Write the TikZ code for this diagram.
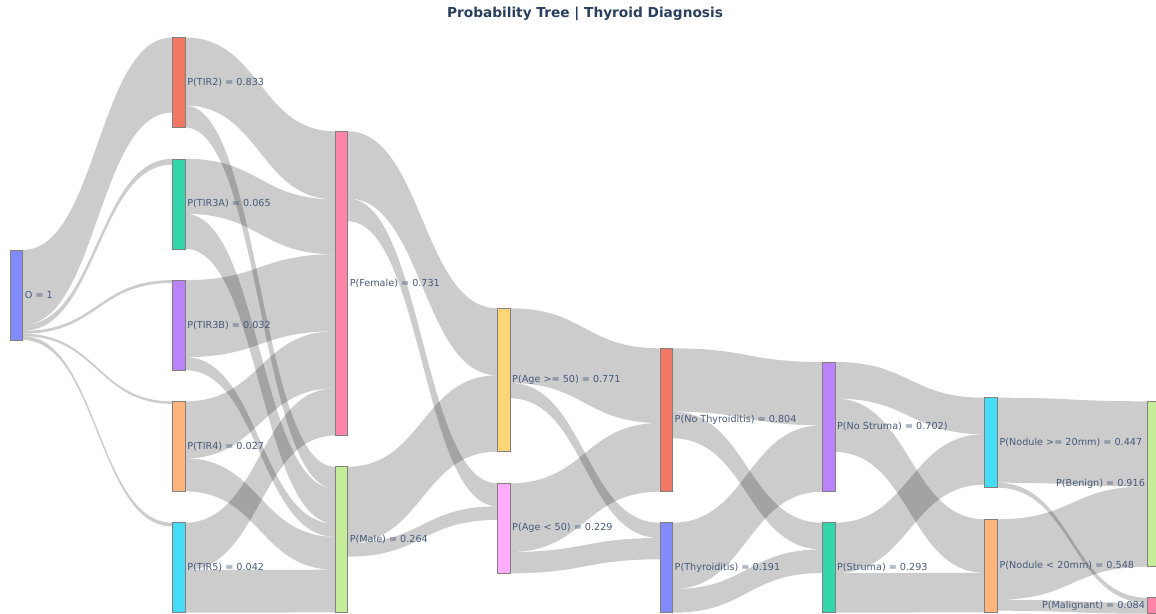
\documentclass[tikz,border=0pt]{standalone}
\usepackage{fontspec}
\setmainfont{DejaVu Sans}
\usetikzlibrary{calc}
\definecolor{cblue}{HTML}{636EFA}
\definecolor{cred}{HTML}{EF553B}
\definecolor{cgreen}{HTML}{00CC96}
\definecolor{cpurple}{HTML}{AB63FA}
\definecolor{corange}{HTML}{FFA15A}
\definecolor{ccyan}{HTML}{19D3F3}
\definecolor{cpink}{HTML}{FF6692}
\definecolor{clime}{HTML}{B6E880}
\definecolor{cyellow}{HTML}{FECB52}
\definecolor{cmagenta}{HTML}{FF97FF}
\definecolor{titc}{HTML}{2A3F5F}
\definecolor{labc}{HTML}{465A7B}
\pgfdeclarelayer{bg}
\pgfsetlayers{bg,main}
\tikzset{
  nd/.style={rectangle, inner sep=0pt, outer sep=0pt, minimum width=12.7pt,
    draw=black!50, line width=0.5pt, anchor=north west},
  lk/.style={fill=black, fill opacity=0.2},
  lbl/.style={font=\fontsize{9.65}{12}\selectfont, text=labc, inner sep=0pt, anchor=west},
  lbll/.style={font=\fontsize{9.65}{12}\selectfont, text=labc, inner sep=0pt, anchor=east},
  ttl/.style={font=\bfseries\fontsize{13.7}{16}\selectfont, text=titc, inner sep=0pt}
}
\newcommand\lnk[5]{%
  \fill[lk] let \p1=($(#1.north east)+(0,#2)$),
               \p2=($(#3.north west)+(0,#4)$),
               \p3=($(#1.north east)+(0,#2+#5)$),
               \p4=($(#3.north west)+(0,#4+#5)$),
               \n1={0.5*(\x1+\x2)} in
    (\p1) .. controls (\n1,\y1) and (\n1,\y2) .. (\p2) -- (\p4)
    .. controls (\n1,\y4) and (\n1,\y3) .. (\p3) -- cycle;}
\begin{document}
\begin{tikzpicture}[x=1pt,y=-1pt]
\useasboundingbox (0,0) rectangle (1156,613);
\clip (0,0) rectangle (1156,613);
% nodes
\node[nd, fill=cblue!80!white, minimum height=90pt] (O) at (10,250) {};
\node[nd, fill=cred!80!white, minimum height=90pt] (TIR2) at (172.4,37.5) {};
\node[nd, fill=cgreen!80!white, minimum height=90pt] (TIR3A) at (172.4,158.8) {};
\node[nd, fill=cpurple!80!white, minimum height=90pt] (TIR3B) at (172.4,280.1) {};
\node[nd, fill=corange!80!white, minimum height=90pt] (TIR4) at (172.4,401.4) {};
\node[nd, fill=ccyan!80!white, minimum height=90pt] (TIR5) at (172.4,522.7) {};
\node[nd, fill=cpink!80!white, minimum height=304.3pt] (Fem) at (334.9,131.3) {};
\node[nd, fill=clime!80!white, minimum height=145.7pt] (Mal) at (334.9,466.7) {};
\node[nd, fill=cyellow!80!white, minimum height=143.4pt] (AgeH) at (497.3,308.3) {};
\node[nd, fill=cmagenta!80!white, minimum height=90pt] (AgeL) at (497.3,483.3) {};
\node[nd, fill=cred!80!white, minimum height=143.4pt] (NoTh) at (659.8,348.3) {};
\node[nd, fill=cblue!80!white, minimum height=90pt] (Th) at (659.8,522.7) {};
\node[nd, fill=cpurple!80!white, minimum height=129.7pt] (NoSt) at (822.2,362) {};
\node[nd, fill=cgreen!80!white, minimum height=90pt] (St) at (822.2,522.7) {};
\node[nd, fill=ccyan!80!white, minimum height=90pt] (NodH) at (984.7,397.7) {};
\node[nd, fill=corange!80!white, minimum height=93pt] (NodL) at (984.7,519.3) {};
\node[nd, fill=clime!80!white, minimum height=165.4pt] (Ben) at (1147.1,401.3) {};
\node[nd, fill=cpink!80!white, minimum height=16pt] (Malg) at (1147.1,597.7) {};
% links
\begin{pgfonlayer}{bg}
\lnk{O}{0}{TIR2}{0}{75}
\lnk{O}{75}{TIR3A}{0}{5.85}
\lnk{O}{80.85}{TIR3B}{0}{2.9}
\lnk{O}{83.75}{TIR4}{0}{2.45}
\lnk{O}{86.2}{TIR5}{0}{3.8}
\lnk{TIR2}{0}{Fem}{0}{68}
\lnk{TIR2}{68}{Mal}{0}{22}
\lnk{TIR3A}{0}{Fem}{68}{55}
\lnk{TIR3A}{55}{Mal}{22}{35}
\lnk{TIR3B}{0}{Fem}{123}{77}
\lnk{TIR3B}{77}{Mal}{57}{13}
\lnk{TIR4}{0}{Fem}{200}{57}
\lnk{TIR4}{57}{Mal}{70}{33}
\lnk{TIR5}{0}{Fem}{257}{47.3}
\lnk{TIR5}{47.3}{Mal}{103}{42.7}
\lnk{Fem}{0}{AgeH}{0}{67}
\lnk{Fem}{67}{AgeL}{0}{23}
\lnk{Mal}{0}{AgeH}{67}{76.4}
\lnk{Mal}{76.4}{AgeL}{23}{13.6}
\lnk{AgeH}{0}{NoTh}{0}{74.7}
\lnk{AgeH}{74.7}{Th}{0}{15.3}
\lnk{AgeL}{0}{NoTh}{74.7}{68.7}
\lnk{AgeL}{68.7}{Th}{15.3}{21.3}
\lnk{NoTh}{0}{NoSt}{0}{63.3}
\lnk{NoTh}{63.3}{St}{0}{26.7}
\lnk{Th}{0}{NoSt}{63.3}{66.4}
\lnk{Th}{66.4}{St}{26.7}{23.6}
\lnk{NoSt}{0}{NodH}{0}{36.5}
\lnk{NoSt}{36.5}{NodL}{0}{53.5}
\lnk{St}{0}{NodH}{36.5}{50.5}
\lnk{St}{50.5}{NodL}{53.5}{39.5}
\lnk{NodH}{0}{Ben}{0}{85}
\lnk{NodH}{85}{Malg}{0}{5}
\lnk{NodL}{0}{Ben}{85}{80.4}
\lnk{NodL}{80.4}{Malg}{5}{11}
\end{pgfonlayer}
% labels
\node[lbl] (lO) at ($(O.east)+(2,0)$) {O = 1};
\node[lbl] (lTIR2) at ($(TIR2.east)+(2,0)$) {P(TIR2) = 0.833};
\node[lbl] (lTIR3A) at ($(TIR3A.east)+(2,0)$) {P(TIR3A) = 0.065};
\node[lbl] (lTIR3B) at ($(TIR3B.east)+(2,0)$) {P(TIR3B) = 0.032};
\node[lbl] (lTIR4) at ($(TIR4.east)+(2,0)$) {P(TIR4) = 0.027};
\node[lbl] (lTIR5) at ($(TIR5.east)+(2,0)$) {P(TIR5) = 0.042};
\node[lbl] (lFem) at ($(Fem.east)+(2,0)$) {P(Female) = 0.731};
\node[lbl] (lMal) at ($(Mal.east)+(2,0)$) {P(Male) = 0.264};
\node[lbl] (lAgeH) at ($(AgeH.east)+(2,0)$) {P(Age >= 50) = 0.771};
\node[lbl] (lAgeL) at ($(AgeL.east)+(2,0)$) {P(Age < 50) = 0.229};
\node[lbl] (lNoTh) at ($(NoTh.east)+(2,0)$) {P(No Thyroiditis) = 0.804};
\node[lbl] (lTh) at ($(Th.east)+(2,0)$) {P(Thyroiditis) = 0.191};
\node[lbl] (lNoSt) at ($(NoSt.east)+(2,0)$) {P(No Struma) = 0.702)};
\node[lbl] (lSt) at ($(St.east)+(2,0)$) {P(Struma) = 0.293};
\node[lbl] (lNodH) at ($(NodH.east)+(2,0)$) {P(Nodule >= 20mm) = 0.447};
\node[lbl] (lNodL) at ($(NodL.east)+(2,0)$) {P(Nodule < 20mm) = 0.548};
\node[lbll] (lBen) at ($(Ben.west)+(-2,0)$) {P(Benign) = 0.916};
\node[lbll] (lMalg) at ($(Malg.west)+(-2,0)$) {P(Malignant) = 0.084};
\node[ttl] (title) at (585,14) {Probability Tree | Thyroid Diagnosis};
\end{tikzpicture}
\end{document}
